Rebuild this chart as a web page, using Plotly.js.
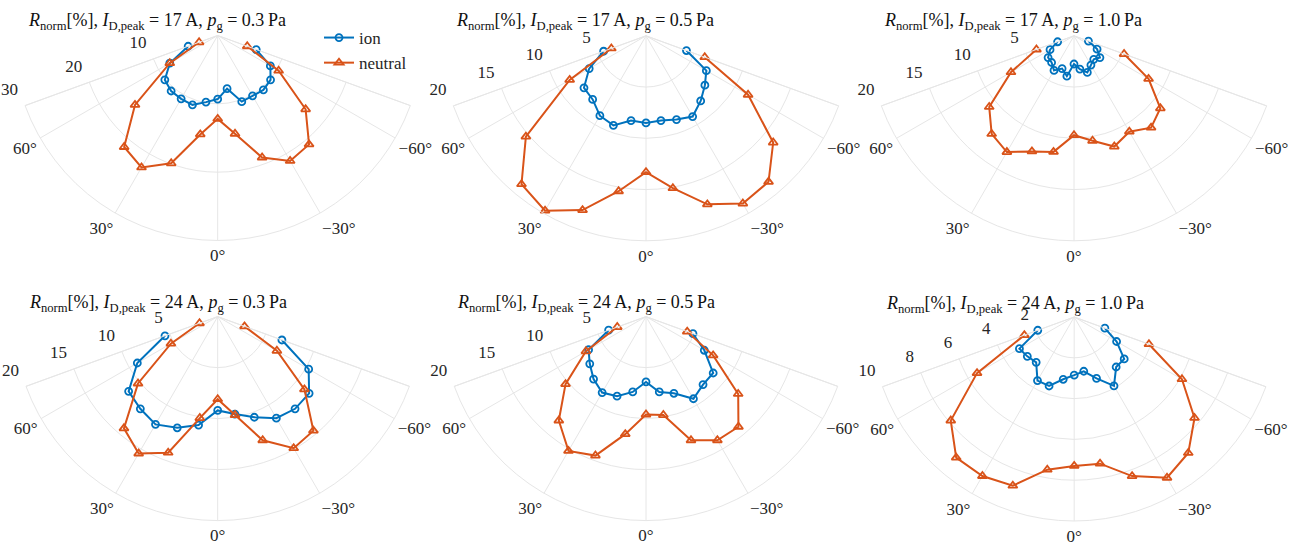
<!DOCTYPE html>
<html>
<head>
<meta charset="utf-8">
<script src="https://cdn.plot.ly/plotly-3.0.1.min.js"></script>
<style>html,body{margin:0;padding:0;background:#fff;}#chart{width:1297px;height:546px;}</style>
</head>
<body>
<div id="chart"></div>
<script>
// ---- data ----
const angles = [70, 60, 50, 40, 30, 20, 10, 0, -10, -20, -30, -40, -50, -60, -70];

const currents = [17, 17, 17, 24, 24, 24];
const pressures = ['0.3', '0.5', '1.0', '0.3', '0.5', '1.0'];

const ion_17_03 = [4.6, 8.1, 10.1, 10.6, 10.7, 10.8, 9.9, 9.3, 7.9, 10.3, 10.2, 10.4, 10.1, 8.9, 6.0];
const neu_17_03 = [2.9, 8.1, 15.8, 21.3, 22.3, 19.9, 14.7, 12.2, 14.6, 19.0, 21.2, 20.8, 16.8, 10.3, 4.6];

const ion_17_05 = [4.4, 6.4, 7.9, 8.1, 9.0, 9.3, 8.4, 8.5, 8.4, 8.7, 9.1, 8.3, 7.5, 6.8, 4.2];
const neu_17_05 = [3.6, 8.6, 15.3, 18.9, 19.7, 18.1, 15.4, 13.3, 15.1, 17.5, 18.9, 18.6, 16.2, 11.5, 6.1];

const ion_17_10 = [1.7, 2.7, 3.3, 3.4, 3.9, 3.4, 4.0, 2.75, 3.3, 3.8, 3.3, 3.0, 3.3, 2.6, 1.5];
const neu_17_10 = [3.9, 7.1, 10.8, 12.5, 13.1, 12.0, 11.5, 9.7, 10.4, 11.5, 10.8, 11.7, 11.0, 8.4, 5.2];

const ion_24_03 = [5.5, 9.1, 11.4, 11.8, 12.2, 11.6, 10.8, 9.2, 9.7, 10.5, 11.5, 11.8, 11.7, 10.3, 6.7];
const neu_24_03 = [1.9, 5.3, 10.2, 14.3, 15.5, 14.2, 10.1, 8.1, 9.8, 12.9, 14.9, 14.6, 11.1, 6.7, 2.8];

const ion_24_05 = [3.9, 6.5, 7.2, 8.0, 8.6, 8.3, 7.5, 6.4, 7.5, 8.0, 9.3, 8.7, 8.6, 6.6, 4.9];
const neu_24_05 = [3.0, 6.8, 10.3, 13.3, 15.2, 14.5, 11.7, 9.6, 9.8, 12.9, 14.0, 14.1, 11.8, 7.6, 4.3];

const ion_24_10 = [1.9, 3.1, 3.0, 2.9, 3.6, 3.6, 3.1, 2.85, 2.7, 3.2, 3.9, 3.2, 3.2, 2.4, 1.6];
const neu_24_10 = [2.6, 5.5, 7.9, 9.0, 9.0, 8.8, 7.6, 7.3, 7.3, 8.3, 9.1, 8.7, 7.7, 6.1, 3.9];

const ionSeries = [ion_17_03, ion_17_05, ion_17_10, ion_24_03, ion_24_05, ion_24_10];
const neuSeries = [neu_17_03, neu_17_05, neu_17_10, neu_24_03, neu_24_05, neu_24_10];

const radialMax = [30, 20, 20, 20, 20, 10];
const radialTicks = [[10, 20, 30], [5, 10, 15, 20], [5, 10, 15, 20], [5, 10, 15, 20], [5, 10, 15, 20], [2, 4, 6, 8, 10]];

// angular ticks (degrees); plotly's angular range for this sector sits one turn below
const angTicks = [-70, -60, -30, 0, 30, 60, 70];
const angTickText = ['', '\u221260\u00b0', '\u221230\u00b0', '0\u00b0', '30\u00b0', '60\u00b0', ''];

// ---- layout geometry ----
const W = 1297, H = 546;
const apexes = [[217.7, 35.5], [646, 35.8], [1074, 35.8], [217.7, 316.6], [646, 316.6], [1074.2, 317]];
const radii = [205, 205, 205, 204, 204, 204];
const HALF = 70;
const EPS = 0.02;
const FONT = 'Liberation Serif, Times New Roman, serif';
const BLUE = '#0072BD', ORANGE = '#D95319';
const GRID = '#e6e6e6', TXT = '#262626';

const angTickVals = angTicks.map(function (t) { return t - 360; });

const traces = [];
const layout = {
  width: W, height: H,
  margin: {l: 0, r: 0, t: 0, b: 0},
  paper_bgcolor: '#fff',
  font: {family: FONT, size: 17, color: TXT},
  showlegend: true,
  legend: {x: 319 / W, y: 1 - 20 / H, xanchor: 'left', yanchor: 'top',
           bgcolor: 'rgba(0,0,0,0)', font: {family: FONT, size: 17, color: TXT},
           tracegroupgap: 0, itemwidth: 30},
  annotations: []
};

for (let i = 0; i < 6; i++) {
  const key = i === 0 ? 'polar' : 'polar' + (i + 1);
  const [ax, ay] = apexes[i];
  const R = radii[i];
  const half = R * Math.sin(HALF * Math.PI / 180);
  layout[key] = {
    domain: {x: [(ax - half) / W, (ax + half) / W], y: [1 - (ay + R) / H, 1 - ay / H]},
    sector: [270 - HALF - EPS, 270 + HALF + EPS],
    bgcolor: '#fff',
    radialaxis: {
      range: [0, radialMax[i]], tickmode: 'array', tickvals: radialTicks[i],
      showline: false, ticks: 'outside', ticklen: 8, tickcolor: 'rgba(0,0,0,0)',
      gridcolor: GRID, gridwidth: 1, tickangle: -160,
      tickfont: {family: FONT, size: 17, color: TXT}, angle: 270 - HALF, side: 'clockwise'
    },
    angularaxis: {
      rotation: -90, direction: 'clockwise', thetaunit: 'degrees',
      tickmode: 'array', tickvals: angTickVals, ticktext: angTickText,
      showline: true, linecolor: GRID, linewidth: 1, gridcolor: GRID, gridwidth: 1, showgrid: true,
      ticks: '', tickfont: {family: FONT, size: 17, color: TXT}
    }
  };
  traces.push({
    type: 'scatterpolar', subplot: key, theta: angles, r: ionSeries[i], cliponaxis: false,
    mode: 'lines+markers', name: 'ion', legendgroup: 'ion', showlegend: i === 0,
    line: {color: BLUE, width: 2},
    marker: {symbol: 'circle-open', size: 7, color: BLUE, line: {width: 1.8, color: BLUE}}
  });
  traces.push({
    type: 'scatterpolar', subplot: key, theta: angles, r: neuSeries[i], cliponaxis: false,
    mode: 'lines+markers', name: 'neutral', legendgroup: 'neutral', showlegend: i === 0,
    line: {color: ORANGE, width: 2},
    marker: {symbol: 'triangle-up-open', size: 8, color: ORANGE, line: {width: 1.8, color: ORANGE}}
  });
  const tx = ax - half + 1;
  const ty = i < 3 ? ay - 14 : ay - 13;
  layout.annotations.push({
    xref: 'paper', yref: 'paper', x: tx / W, y: 1 - ty / H,
    xanchor: 'left', yanchor: 'middle', showarrow: false,
    font: {family: FONT, size: 18, color: '#111'},
    text: '<i>R</i><sub>norm</sub>[%], <i>I</i><sub>D,peak</sub> = ' + currents[i] +
          '\u2009A, <i>p</i><sub>g</sub> = ' + pressures[i] + '\u2009Pa'
  });
}

Plotly.newPlot('chart', traces, layout, {staticPlot: true, displayModeBar: false});
</script>
</body>
</html>
